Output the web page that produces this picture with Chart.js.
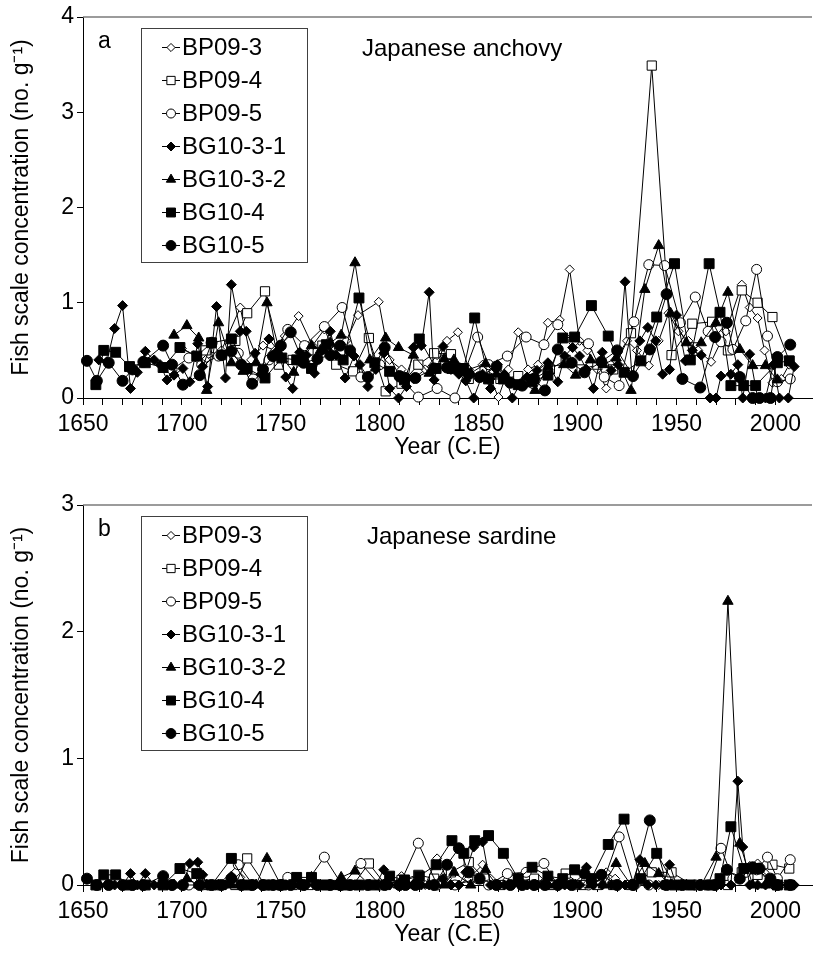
<!DOCTYPE html>
<html>
<head>
<meta charset="utf-8">
<title>Fish scale concentration</title>
<script src="https://cdn.jsdelivr.net/npm/chart.js@4.4.1/dist/chart.umd.min.js"></script>
<style>
  html, body { margin: 0; padding: 0; background: #fff; }
  #wrap { position: relative; width: 820px; height: 956px; }
  canvas { position: absolute; left: 0; }
</style>
</head>
<body>
<div id="wrap">
  <canvas id="chartA" width="820" height="488" style="top:0px"></canvas>
  <canvas id="chartB" width="820" height="468" style="top:488px"></canvas>
</div>
<script>
// sample years per core (C.E)
const years_BP09_3 = [1700,1706,1712,1720,1729.5,1735,1741,1747,1752,1759,1766,1772,1777,1783,1789,1799.5,1805,1811,1817,1823,1829,1834,1839.5,1845,1852,1856,1860,1865,1870,1875,1880,1885,1891,1896,1901,1905,1910,1914.5,1919,1925,1930,1936,1941,1946,1951,1956,1961,1967.5,1975,1983,1987,1991,1994.5,1998.5,2003,2007];
const years_BP09_4 = [1712,1720,1727,1733,1742,1749,1756,1764,1771,1778,1786.5,1794.5,1803,1811,1819.5,1827.5,1836,1845,1853,1861,1870,1878,1886,1894,1902,1910,1918,1927,1937.5,1947.5,1958,1968,1976,1983,1991,1998.5,2007];
const years_BP09_5 = [1695,1703.5,1710,1718.5,1728.5,1736,1744,1753.5,1762,1772,1781,1790.5,1800,1810,1819.5,1829,1838,1849.5,1855,1864.5,1874,1883,1890,1898,1905.5,1913.5,1921,1928.5,1936,1944,1952,1959.5,1966,1972.5,1978.5,1985,1990.5,1996,2001,2007.5];
const years_BG10_3_1 = [1658,1662,1666,1670,1674,1677.5,1681.5,1686,1689,1692.5,1696,1700.5,1704,1708,1710.5,1713,1717.5,1722,1725,1729.5,1732.5,1737,1740,1744,1748.5,1752.5,1756,1759.5,1763,1767,1771,1775,1778,1782.5,1787,1790,1794,1798,1802,1805,1809.5,1813.5,1817,1821,1825,1827.5,1832,1836,1840,1843.5,1847.5,1852,1856,1859.5,1863,1867,1871,1874.5,1879.5,1885,1890,1893.5,1897.5,1901,1904.5,1908,1912.5,1917,1920.5,1924,1927.5,1931.5,1935.5,1939.5,1943,1946.5,1950,1954.5,1958,1962.5,1967,1970,1972.5,1977.5,1981,1983.5,1987,1991,1995,1999,2002,2006.5,2009.5];
const years_BG10_3_2 = [1696,1702.5,1708.5,1712.5,1718.5,1725,1731,1737.5,1743,1750,1756.5,1761,1765.5,1770,1775,1780.5,1787.5,1795,1803,1809.5,1817,1825,1832.5,1837.5,1846,1853.5,1859,1865,1872,1878.5,1885,1893,1899,1906.5,1913,1919.5,1927,1934,1941,1947,1955,1962.5,1970,1976,1982,1988.5,1995,2001];
const years_BG10_4 = [1656.5,1660.5,1666.5,1673.5,1681.5,1690.5,1699,1707.5,1715,1725,1733,1742,1750.5,1758,1765.5,1773,1781.5,1789.5,1797.5,1805,1812.5,1820,1828.5,1836.5,1842.5,1848,1855,1862.5,1870,1877,1885,1892.5,1898.5,1907,1915.5,1923.5,1932,1940,1949,1957,1966.5,1972,1977.5,1984,1990,2001,2007];
const years_BG10_5 = [1652,1657,1663,1670,1675,1680.5,1690.5,1695,1700.5,1709,1715,1720,1725,1730,1735.5,1741,1746,1750,1755,1761.5,1768.5,1775,1780,1785,1794,1802.5,1810,1813,1818,1827.5,1834,1840,1845,1850.5,1859,1866,1872,1878,1883.5,1890,1897,1903.5,1912,1920,1928,1936.5,1945,1953,1962,1969.5,1975.5,1982,1988.5,1992,1997.5,2001,2007.5];

// (a) Japanese anchovy, no. per g
const anchovy_BP09_3 = [0.52,0.45,0.40,0.50,0.95,0.40,0.55,0.50,0.65,0.86,0.55,0.72,0.50,0.60,0.87,1.01,0.40,0.30,0.20,0.30,0.45,0.60,0.69,0.30,0.35,0.20,0.01,0.30,0.69,0.30,0.35,0.79,0.82,1.35,0.60,0.50,0.30,0.10,0.40,0.60,0.50,0.34,0.60,0.89,0.70,0.60,0.50,0.38,0.70,1.19,0.95,0.84,0.50,0.16,0.20,0.35];
const anchovy_BP09_4 = [0.50,0.45,0.60,0.89,1.12,0.35,0.40,0.50,0.55,0.35,0.28,0.63,0.07,0.15,0.35,0.47,0.46,0.20,0.30,0.20,0.23,0.20,0.30,0.40,0.30,0.35,0.30,0.68,3.49,0.45,0.78,0.80,0.50,1.13,1.00,0.85,0.39];
const anchovy_BP09_5 = [0.30,0.42,0.35,0.44,0.47,0.20,0.40,0.72,0.55,0.75,0.95,0.22,0.35,0.22,0.01,0.10,0.00,0.64,0.35,0.44,0.64,0.56,0.77,0.60,0.57,0.22,0.13,0.80,1.40,1.39,0.79,1.06,0.70,0.59,0.51,0.81,1.35,0.65,0.17,0.20];
const anchovy_BG10_3_1 = [0.40,0.38,0.73,0.97,0.10,0.27,0.49,0.40,0.35,0.19,0.24,0.31,0.17,0.57,0.33,0.12,0.96,0.21,1.19,0.70,0.70,0.47,0.25,0.62,0.50,0.22,0.10,0.48,0.45,0.26,0.50,0.70,0.45,0.21,0.44,0.35,0.12,0.30,0.47,0.10,0.00,0.12,0.53,0.55,1.11,0.19,0.54,0.30,0.25,0.18,0.00,0.25,0.10,0.35,0.25,0.00,0.15,0.22,0.29,0.37,0.17,0.44,0.53,0.44,0.30,0.10,0.48,0.29,0.35,1.22,0.23,0.60,0.74,0.60,0.25,0.30,0.87,0.39,0.50,0.45,0.00,0.00,0.23,0.25,0.35,0.00,0.46,0.00,0.00,0.35,0.00,0.00,0.33];
const anchovy_BG10_3_2 = [0.66,0.76,0.63,0.08,0.79,0.37,0.28,0.37,1.00,0.44,0.27,0.40,0.55,0.50,0.58,0.66,1.42,0.40,0.63,0.53,0.45,0.26,0.41,0.40,0.26,0.36,0.25,0.19,0.16,0.08,0.33,0.35,0.24,0.40,0.35,0.42,0.08,1.14,1.60,0.89,0.58,0.58,0.79,1.11,0.51,0.34,0.34,0.19];
const anchovy_BG10_4 = [0.14,0.50,0.48,0.33,0.37,0.32,0.53,0.44,0.58,0.62,0.31,0.21,0.42,0.40,0.31,0.56,0.40,1.05,0.37,0.28,0.19,0.62,0.31,0.31,0.31,0.84,0.20,0.20,0.14,0.17,0.24,0.63,0.64,0.97,0.65,0.27,0.39,0.85,1.41,0.40,1.41,0.90,0.13,0.13,0.13,0.37,0.39];
const anchovy_BG10_5 = [0.39,0.18,0.37,0.18,0.30,0.38,0.55,0.35,0.14,0.24,0.58,0.45,0.49,0.35,0.15,0.30,0.44,0.55,0.69,0.37,0.41,0.45,0.55,0.50,0.22,0.53,0.23,0.21,0.21,0.31,0.32,0.31,0.25,0.22,0.33,0.16,0.13,0.20,0.08,0.51,0.37,0.27,0.38,0.50,0.23,0.51,1.09,0.20,0.11,0.64,0.79,0.22,0.00,0.00,0.00,0.43,0.56];

// (b) Japanese sardine, no. per g
const sardine_BP09_3 = [0,0.03,0,0,0.06,0,0,0,0,0,0,0,0,0,0,0,0,0.07,0,0,0.21,0.05,0,0.05,0.16,0.05,0,0.09,0.06,0,0.05,0,0,0,0,0,0,0.10,0.05,0,0,0,0,0.05,0,0,0,0,0,0.10,0.15,0.17,0.10,0,0,0];
const sardine_BP09_4 = [0,0,0,0.21,0,0,0,0,0,0,0,0.17,0,0.04,0.08,0.05,0.10,0.18,0.05,0,0.03,0.05,0,0.09,0,0,0,0,0.10,0.10,0,0,0,0.10,0.08,0.16,0.13];
const sardine_BP09_5 = [0,0,0,0,0.16,0,0,0.06,0,0.22,0,0.17,0,0,0.33,0,0,0.05,0,0.09,0.10,0.17,0,0,0,0.05,0.38,0,0,0,0,0,0,0.29,0.05,0.10,0.12,0.22,0.05,0.20];
const sardine_BG10_3_1 = [0,0,0,0,0.09,0,0.09,0,0,0,0,0,0.17,0.18,0.08,0,0,0,0.07,0,0,0,0,0,0,0,0,0,0,0,0,0,0,0,0,0,0,0,0.12,0,0,0,0,0,0,0,0.05,0,0,0.10,0.30,0.34,0,0,0,0,0,0,0,0,0,0,0,0,0.14,0,0,0,0,0,0,0.20,0,0,0,0.16,0,0,0,0,0,0,0,0,0.82,0.30,0,0,0,0,0,0,0];
const sardine_BG10_3_2 = [0,0.05,0,0,0,0,0,0,0.21,0,0,0,0.06,0,0,0.06,0.11,0,0,0,0,0,0,0.10,0,0.12,0,0,0,0,0,0,0,0,0,0.17,0,0.17,0.09,0,0,0,0.22,2.24,0.33,0,0,0];
const sardine_BG10_4 = [0,0.08,0.08,0,0,0,0.13,0.09,0,0.21,0,0,0,0.06,0.06,0,0,0,0,0.07,0.04,0.07,0.16,0.35,0.25,0.35,0.39,0.25,0.05,0.14,0.07,0.05,0.12,0.05,0.32,0.52,0.05,0.25,0,0,0,0.05,0.46,0.13,0.13,0,0];
const sardine_BG10_5 = [0.05,0,0,0,0,0,0.07,0,0,0,0,0,0.05,0,0,0,0,0,0,0,0,0,0,0,0,0,0,0,0,0,0.16,0.29,0.10,0.05,0,0,0,0,0,0,0,0.09,0.08,0,0,0.51,0,0,0,0,0.12,0.05,0.14,0.13,0.05,0,0];

const coreNames = ['BP09-3', 'BP09-4', 'BP09-5', 'BG10-3-1', 'BG10-3-2', 'BG10-4', 'BG10-5'];
const coreYears = [years_BP09_3, years_BP09_4, years_BP09_5, years_BG10_3_1, years_BG10_3_2, years_BG10_4, years_BG10_5];
const anchovyValues = [anchovy_BP09_3, anchovy_BP09_4, anchovy_BP09_5, anchovy_BG10_3_1, anchovy_BG10_3_2, anchovy_BG10_4, anchovy_BG10_5];
const sardineValues = [sardine_BP09_3, sardine_BP09_4, sardine_BP09_5, sardine_BG10_3_1, sardine_BG10_3_2, sardine_BG10_4, sardine_BG10_5];

// marker look per core (open symbols for BP cores, filled for BG cores)
const markerStyles = ['rectRot', 'rect', 'circle', 'rectRot', 'triangle', 'rect', 'circle'];
const markerSizes = [4.5, 6.5, 5, 5, 6, 7, 5.5];
const markerFills = ['#fff', '#fff', '#fff', '#000', '#000', '#000', '#000'];

const FONT = '"Liberation Sans", Arial, sans-serif';
Chart.defaults.font.family = FONT;
Chart.defaults.color = '#000';

function drawMarker(ctx, style, x, y, r, fill) {
  ctx.beginPath();
  if (style === 'circle') {
    ctx.arc(x, y, r, 0, Math.PI * 2);
  } else if (style === 'rect') {
    const s = r * Math.SQRT1_2;
    ctx.rect(x - s, y - s, 2 * s, 2 * s);
  } else if (style === 'rectRot') {
    ctx.moveTo(x, y - r); ctx.lineTo(x + r, y); ctx.lineTo(x, y + r); ctx.lineTo(x - r, y); ctx.closePath();
  } else if (style === 'triangle') {
    let a = 0;
    ctx.moveTo(x + Math.sin(a) * r, y - Math.cos(a) * r);
    a += 2 * Math.PI / 3; ctx.lineTo(x + Math.sin(a) * r, y - Math.cos(a) * r);
    a += 2 * Math.PI / 3; ctx.lineTo(x + Math.sin(a) * r, y - Math.cos(a) * r);
    ctx.closePath();
  }
  ctx.fillStyle = fill; ctx.fill();
  ctx.lineWidth = 1; ctx.strokeStyle = '#000'; ctx.stroke();
}

// frame top line, panel letter, species name and the boxed legend
const panelDecor = {
  id: 'panelDecor',
  afterDraw(chart, args, opts) {
    const ctx = chart.ctx, area = chart.chartArea;
    ctx.save();
    ctx.strokeStyle = '#7a7a7a'; ctx.lineWidth = 1.5;
    ctx.beginPath(); ctx.moveTo(area.left, area.top); ctx.lineTo(area.right, area.top); ctx.stroke();

    ctx.fillStyle = '#000';
    ctx.textBaseline = 'alphabetic';
    ctx.font = '23px ' + FONT;
    ctx.fillText(opts.letter, 98, area.top + 31);
    ctx.font = '24px ' + FONT;
    ctx.fillText(opts.species, opts.speciesX, area.top + 39);

    const bx = 141, by = area.top + 11, bw = 166, rowH = 33;
    const n = chart.data.datasets.length;
    const bh = rowH * n + 3;
    ctx.fillStyle = '#fff'; ctx.fillRect(bx, by, bw, bh);
    ctx.strokeStyle = '#404040'; ctx.lineWidth = 1;
    ctx.strokeRect(bx + 0.5, by + 0.5, bw, bh);
    chart.data.datasets.forEach((ds, i) => {
      const cy = by + 19 + rowH * i;
      ctx.strokeStyle = '#000'; ctx.lineWidth = 1;
      ctx.beginPath(); ctx.moveTo(162, cy + 0.5); ctx.lineTo(180, cy + 0.5); ctx.stroke();
      drawMarker(ctx, ds.pointStyle, 171, cy + 0.5, ds.pointRadius * 0.9, ds.pointBackgroundColor);
      ctx.fillStyle = '#000'; ctx.textBaseline = 'middle'; ctx.font = '24px ' + FONT;
      ctx.fillText(ds.label, 182, cy + 1);
    });
    ctx.restore();
  }
};

function makeDatasets(valuesList) {
  return coreNames.map((name, i) => ({
    label: name,
    data: coreYears[i].map((yr, j) => ({ x: yr, y: valuesList[i][j] })),
    borderColor: '#000',
    borderWidth: 1,
    tension: 0,
    pointStyle: markerStyles[i],
    pointRadius: markerSizes[i],
    pointBackgroundColor: markerFills[i],
    pointBorderColor: '#000',
    pointBorderWidth: 1,
    clip: false,
    order: coreNames.length - 1 - i
  }));
}

function makeChart(id, valuesList, yMax, padBottom, letter, species, speciesX) {
  return new Chart(document.getElementById(id), {
    type: 'line',
    data: { datasets: makeDatasets(valuesList) },
    options: {
      responsive: false,
      animation: false,
      layout: { padding: { top: 17, right: 0, bottom: padBottom, left: 0 } },
      plugins: {
        legend: { display: false },
        tooltip: { enabled: false },
        panelDecor: { letter: letter, species: species, speciesX: speciesX }
      },
      scales: {
        x: {
          type: 'linear', min: 1650, max: 2018.5,
          afterBuildTicks: ax => { ax.ticks = ax.ticks.filter(t => t.value % 10 === 0); },
          afterFit: s => { s.height = 63; },
          ticks: {
            stepSize: 10, autoSkip: false, maxRotation: 0, padding: 6,
            font: { size: 23 },
            callback: v => (v % 50 === 0 ? String(v) : '')
          },
          grid: { drawOnChartArea: false, tickLength: 7, color: '#000' },
          border: { color: '#000', width: 1 },
          title: { display: true, text: 'Year (C.E)', font: { size: 23 }, padding: 0 }
        },
        y: {
          min: 0, max: yMax,
          afterFit: s => { s.width = 83; },
          ticks: { stepSize: 1, padding: 3, font: { size: 23 } },
          grid: { drawOnChartArea: false, tickLength: 6, color: '#000' },
          border: { color: '#000', width: 1 },
          title: { display: true, text: 'Fish scale concentration (no. g\u207B\u00B9)', font: { size: 23 }, padding: { top: 8, bottom: 0 } }
        }
      }
    },
    plugins: [panelDecor]
  });
}

makeChart('chartA', anchovyValues, 4, 27, 'a', 'Japanese anchovy', 362);
makeChart('chartB', sardineValues, 3, 8, 'b', 'Japanese sardine', 367);
</script>
</body>
</html>
